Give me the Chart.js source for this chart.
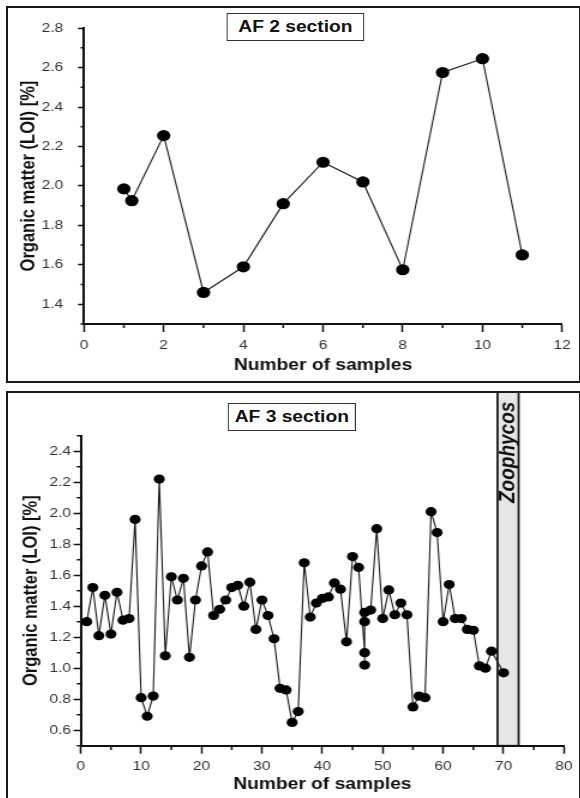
<!DOCTYPE html>
<html>
<head>
<meta charset="utf-8">
<script src="https://cdn.jsdelivr.net/npm/chart.js@4.4.1/dist/chart.umd.min.js"></script>
<style>
  html, body { margin: 0; padding: 0; background: #fff; }
  body { width: 580px; height: 798px; position: relative; overflow: hidden; font-family: "Liberation Sans", Arial, sans-serif; }
  .panel { position: absolute; left: 6px; width: 575px; border: 2px solid #1a1a1a; box-sizing: border-box; overflow: hidden; background: #fff; }
  #panelTop { top: 6px; height: 377px; }
  #panelBottom { top: 391px; height: 420px; }
  /* the original figure is stretched sideways, so draw narrow and widen */
  .stretch { position: absolute; left: 0; top: 0; width: 475px; transform: scaleX(1.2); transform-origin: 0 0; }
  .label-box { position: absolute; border: 1.5px solid #333; background: #fff; box-sizing: border-box;
               font-weight: bold; font-size: 16px; text-align: center; color: #111; }
</style>
</head>
<body>
<div class="panel" id="panelTop">
  <div class="stretch" style="height:373px">
    <canvas id="af2-chart" width="475" height="373"></canvas>
    <div class="label-box" style="left:182px; top:5px; width:115px; height:28px; line-height:25px;">AF 2 section</div>
  </div>
</div>
<div class="panel" id="panelBottom">
  <div class="stretch" style="height:405px">
    <canvas id="af3-chart" width="475" height="405"></canvas>
    <div class="label-box" style="left:183px; top:10px; width:107px; height:28px; line-height:25px;">AF 3 section</div>
  </div>
</div>

<script>
// AF 2 section
const af2Samples = [1, 1.2, 2, 3, 4, 5, 6, 7, 8, 9, 10, 11];
const af2Loi = [1.985, 1.925, 2.255, 1.46, 1.59, 1.91, 2.12, 2.02, 1.575, 2.575, 2.645, 1.65];

// AF 3 section
const af3Samples = [
  1, 2, 3, 4, 5, 6, 7, 8, 9, 10,
  11, 12, 13, 14, 15, 16, 17, 18, 19, 20,
  21, 22, 23, 24, 25, 26, 27, 28, 29, 30,
  31, 32, 33, 34, 35, 36, 37, 38, 39, 40,
  41, 42, 43, 44, 45, 46, 47, 47, 47, 47,
  48, 49, 50, 51, 52, 53, 54, 55, 56, 57,
  58, 59, 60, 61, 62, 63, 64, 65, 66, 67,
  68, 70
];
const af3Loi = [
  1.30, 1.52, 1.21, 1.47, 1.22, 1.49, 1.31, 1.32, 1.96, 0.81,
  0.69, 0.82, 2.22, 1.08, 1.59, 1.44, 1.58, 1.07, 1.44, 1.66,
  1.75, 1.34, 1.38, 1.44, 1.52, 1.535, 1.40, 1.555, 1.25, 1.44,
  1.34, 1.19, 0.87, 0.86, 0.65, 0.72, 1.68, 1.33, 1.42, 1.45,
  1.46, 1.55, 1.51, 1.17, 1.72, 1.65, 1.10, 1.02, 1.30, 1.36,
  1.375, 1.90, 1.32, 1.505, 1.345, 1.42, 1.345, 0.75, 0.82, 0.81,
  2.01, 1.875, 1.30, 1.54, 1.32, 1.32, 1.25, 1.245, 1.015, 1.00,
  1.11, 0.97
];

const zoophycosRange = [69, 72.5];
const zoophycosLabel = 'Zoophycos';

const yTitle = 'Organic matter (LOI) [%]';
const xTitle = 'Number of samples';

Chart.defaults.font.family = '"Liberation Sans", Arial, sans-serif';

const isMajor = (value, step) => Math.abs(value / step - Math.round(value / step)) < 1e-6;

// short ticks between the labelled ones
const minorTicks = {
  id: 'minorTicks',
  afterDraw(chart, args, opts) {
    const ctx = chart.ctx;
    const { x, y } = chart.scales;
    ctx.save();
    ctx.strokeStyle = '#111';
    ctx.lineWidth = 1.5;
    ctx.beginPath();
    x.ticks.forEach((t) => {
      if (isMajor(t.value, opts.xMajor)) return;
      const px = x.getPixelForValue(t.value);
      ctx.moveTo(px, x.top);
      ctx.lineTo(px, x.top + opts.xLen);
    });
    y.ticks.forEach((t) => {
      if (isMajor(t.value, opts.yMajor)) return;
      const py = y.getPixelForValue(t.value);
      ctx.moveTo(y.right, py);
      ctx.lineTo(y.right - opts.yLen, py);
    });
    ctx.stroke();
    ctx.restore();
  }
};

// grey Zoophycos band
const zoneBand = {
  id: 'zoneBand',
  beforeDatasetsDraw(chart, args, opts) {
    if (!opts.text) return;
    const { ctx, chartArea } = chart;
    const xs = chart.scales.x;
    const x0 = xs.getPixelForValue(opts.from);
    const x1 = xs.getPixelForValue(opts.to);
    ctx.save();
    ctx.fillStyle = '#e6e6e6';
    ctx.fillRect(x0, 0, x1 - x0, chartArea.bottom);
    ctx.strokeStyle = '#111';
    ctx.lineWidth = 1.7;
    ctx.strokeRect(x0, -3, x1 - x0, chartArea.bottom + 3);
    ctx.translate((x0 + x1) / 2, opts.textBottom);
    ctx.rotate(-Math.PI / 2);
    ctx.font = 'italic bold 19px "Liberation Sans", Arial, sans-serif';
    ctx.fillStyle = '#111';
    ctx.textAlign = 'left';
    ctx.textBaseline = 'middle';
    ctx.fillText(opts.text, 0, 0);
    ctx.restore();
  }
};

const makeChart = (id, samples, values, c) => {
  const ctx = document.getElementById(id);
  return new Chart(ctx, {
    type: 'line',
    data: {
      datasets: [{
        data: samples.map((s, i) => ({ x: s, y: values[i] })),
        borderColor: '#1a1a1a',
        borderWidth: 1.1,
        pointBackgroundColor: '#000',
        pointBorderColor: '#000',
        pointBorderWidth: 0,
        pointRadius: c.dot,
        tension: 0
      }]
    },
    options: {
      responsive: false,
      animation: false,
      layout: { padding: c.padding },
      plugins: {
        legend: { display: false },
        tooltip: { enabled: false },
        minorTicks: c.minor,
        zoneBand: c.band || {}
      },
      scales: {
        x: {
          type: 'linear',
          min: c.x.min,
          max: c.x.max,
          afterFit: (s) => { s.height = c.x.height; },
          border: { display: true, color: '#111', width: 2 },
          grid: {
            drawOnChartArea: false,
            tickLength: c.x.tickLength,
            tickWidth: 1.5,
            tickColor: (t) => (t.tick && isMajor(t.tick.value, c.x.major) ? '#111' : 'rgba(0,0,0,0)')
          },
          ticks: {
            stepSize: c.x.step,
            autoSkip: false,
            maxRotation: 0,
            padding: c.x.pad,
            color: '#333',
            font: { size: 13 },
            callback: (v) => (isMajor(v, c.x.major) ? String(Math.round(v)) : '')
          },
          title: {
            display: true,
            text: xTitle,
            color: '#111',
            font: { size: 16, weight: 'bold' },
            padding: { top: 0, bottom: 0 }
          }
        },
        y: {
          min: c.y.min,
          max: c.y.max,
          afterFit: (s) => { s.width = c.y.width; },
          border: { display: true, color: '#111', width: 2 },
          grid: {
            drawOnChartArea: false,
            tickLength: c.y.tickLength,
            tickWidth: 1.5,
            tickColor: (t) => (t.tick && isMajor(t.tick.value, c.y.major) ? '#111' : 'rgba(0,0,0,0)')
          },
          ticks: {
            stepSize: c.y.step,
            autoSkip: false,
            padding: c.y.pad,
            color: '#333',
            font: { size: 13 },
            callback: (v) => (isMajor(v, c.y.major) ? v.toFixed(1) : '')
          },
          title: {
            display: true,
            text: yTitle,
            color: '#111',
            font: { size: 16.5, weight: 'bold' },
            padding: { top: c.y.titlePad, bottom: 0 }
          }
        }
      }
    },
    plugins: [zoneBand, minorTicks]
  });
};

makeChart('af2-chart', af2Samples, af2Loi, {
  dot: 5.6,
  padding: { left: 0, right: 8.7, top: 14.7, bottom: 5.4 },
  x: { min: 0, max: 12, step: 1, major: 2, height: 51.6, tickLength: 8, pad: 6 },
  y: { min: 1.3, max: 2.8, step: 0.1, major: 0.2, width: 63.3, tickLength: 5, pad: 12.3, titlePad: 7.6 },
  minor: { xMajor: 2, yMajor: 0.2, xLen: 4, yLen: 2.8 }
});

makeChart('af3-chart', af3Samples, af3Loi, {
  dot: 4.6,
  padding: { left: 0, right: 11.25, top: 42.7, bottom: 4.3 },
  x: { min: 0, max: 80, step: 5, major: 10, height: 48, tickLength: 8, pad: 4.5 },
  y: { min: 0.5, max: 2.5, step: 0.1, major: 0.2, width: 60.6, tickLength: 6, pad: 2, titlePad: 9.3 },
  minor: { xMajor: 10, yMajor: 0.2, xLen: 4.3, yLen: 3.3 },
  band: { from: zoophycosRange[0], to: zoophycosRange[1], text: zoophycosLabel, textBottom: 110 }
});
</script>
</body>
</html>
